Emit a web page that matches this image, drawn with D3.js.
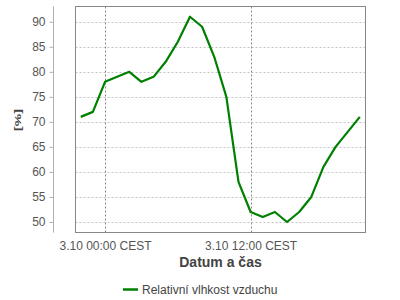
<!DOCTYPE html>
<html>
<head>
<meta charset="utf-8">
<script src="https://cdn.jsdelivr.net/npm/d3@7"></script>
<style>
  body { margin: 0; background: #fff; }
  svg { display: block; font-family: "Liberation Sans", Arial, sans-serif; }
</style>
</head>
<body>
<div id="chart"></div>
<script>
// hourly readings, 2.10 22:00 .. 3.10 21:00
const times = [
  "2013-10-02 22:00", "2013-10-02 23:00", "2013-10-03 00:00", "2013-10-03 01:00",
  "2013-10-03 02:00", "2013-10-03 03:00", "2013-10-03 04:00", "2013-10-03 05:00",
  "2013-10-03 06:00", "2013-10-03 07:00", "2013-10-03 08:00", "2013-10-03 09:00",
  "2013-10-03 10:00", "2013-10-03 11:00", "2013-10-03 12:00", "2013-10-03 13:00",
  "2013-10-03 14:00", "2013-10-03 15:00", "2013-10-03 16:00", "2013-10-03 17:00",
  "2013-10-03 18:00", "2013-10-03 19:00", "2013-10-03 20:00", "2013-10-03 21:00"
];
const humidity = [71, 72, 78, 79, 80, 78, 79, 82, 86, 91, 89, 83, 75, 58, 52, 51, 52, 50, 52, 55, 61, 65, 68, 71];
const xTicks = ["2013-10-03 00:00", "2013-10-03 12:00"];
const xTickLabels = ["3.10 00:00 CEST", "3.10 12:00 CEST"];
const yTicks = [50, 55, 60, 65, 70, 75, 80, 85, 90];
const seriesName = "Relativní vlhkost vzduchu";

const W = 400, H = 300;
const plot = { left: 75.5, right: 365.5, top: 6.5, bottom: 232.5 };

const parse = d3.timeParse("%Y-%m-%d %H:%M");
const data = times.map((t, i) => ({ t: parse(t), v: humidity[i] }));
const tickDates = xTicks.map(parse);

const x = d3.scaleTime()
  .domain([d3.timeMinute.offset(data[0].t, -26), d3.timeMinute.offset(data[data.length - 1].t, 28)])
  .range([plot.left, plot.right]);
const y = d3.scaleLinear()
  .domain([47.9, 93.05])
  .range([plot.bottom, plot.top]);

const svg = d3.select("#chart").append("svg")
  .attr("width", W)
  .attr("height", H);

// horizontal grid
svg.append("g")
  .selectAll("line")
  .data(yTicks)
  .enter().append("line")
  .attr("x1", plot.left).attr("x2", plot.right)
  .attr("y1", d => Math.round(y(d)) + 0.5).attr("y2", d => Math.round(y(d)) + 0.5)
  .attr("stroke", "#c4c4c4")
  .attr("stroke-dasharray", "2,2");

// vertical grid
svg.append("g")
  .selectAll("line")
  .data(tickDates)
  .enter().append("line")
  .attr("x1", d => Math.round(x(d)) + 0.5).attr("x2", d => Math.round(x(d)) + 0.5)
  .attr("y1", plot.top).attr("y2", plot.bottom)
  .attr("stroke", "#888")
  .attr("stroke-dasharray", "2,2");

// plot frame
svg.append("rect")
  .attr("x", plot.left).attr("y", plot.top)
  .attr("width", plot.right - plot.left).attr("height", plot.bottom - plot.top)
  .attr("fill", "none")
  .attr("stroke", "#888");

// y axis, detached from the frame
const yAxis = svg.append("g")
  .attr("transform", "translate(53.5,0)")
  .call(d3.axisLeft(y).tickValues(yTicks).tickSize(4).tickPadding(4));
yAxis.select(".domain").attr("stroke", "#b0b0b0").attr("d", `M0,${plot.top}V${plot.bottom}`);
yAxis.selectAll(".tick line").attr("stroke", "#b0b0b0");
yAxis.selectAll(".tick text")
  .attr("fill", "#555")
  .style("font-size", "12px");

// x axis labels only
const xAxis = svg.append("g")
  .attr("transform", `translate(0,${plot.bottom})`)
  .call(d3.axisBottom(x).tickValues(tickDates).tickSize(0).tickPadding(9)
    .tickFormat((d, i) => xTickLabels[i]));
xAxis.select(".domain").remove();
xAxis.selectAll(".tick text")
  .attr("fill", "#555")
  .style("font-size", "12px");

// series
const line = d3.line()
  .x(d => x(d.t))
  .y(d => y(d.v));

svg.append("path")
  .datum(data)
  .attr("fill", "none")
  .attr("stroke", "#008000")
  .attr("stroke-width", 2.2)
  .attr("stroke-linejoin", "round")
  .attr("d", line);

// axis titles
svg.append("text")
  .attr("x", (plot.left + plot.right) / 2)
  .attr("y", 267)
  .attr("text-anchor", "middle")
  .style("font-size", "14px")
  .style("font-weight", "bold")
  .attr("fill", "#444")
  .text("Datum a čas");

// the reference draws this title squashed across its height
svg.append("text")
  .attr("transform", "translate(20.5,120) rotate(-90) scale(1,0.6)")
  .attr("text-anchor", "middle")
  .style("font-size", "14px")
  .style("font-weight", "bold")
  .attr("fill", "#444")
  .text("[%]");

// legend
const legend = svg.append("g").attr("transform", "translate(123,289.5)");
legend.append("line")
  .attr("x1", 0).attr("x2", 15)
  .attr("stroke", "#008000")
  .attr("stroke-width", 2.5);
legend.append("text")
  .attr("x", 19)
  .attr("y", 4.5)
  .style("font-size", "12px")
  .attr("fill", "#444")
  .text(seriesName);
</script>
</body>
</html>
